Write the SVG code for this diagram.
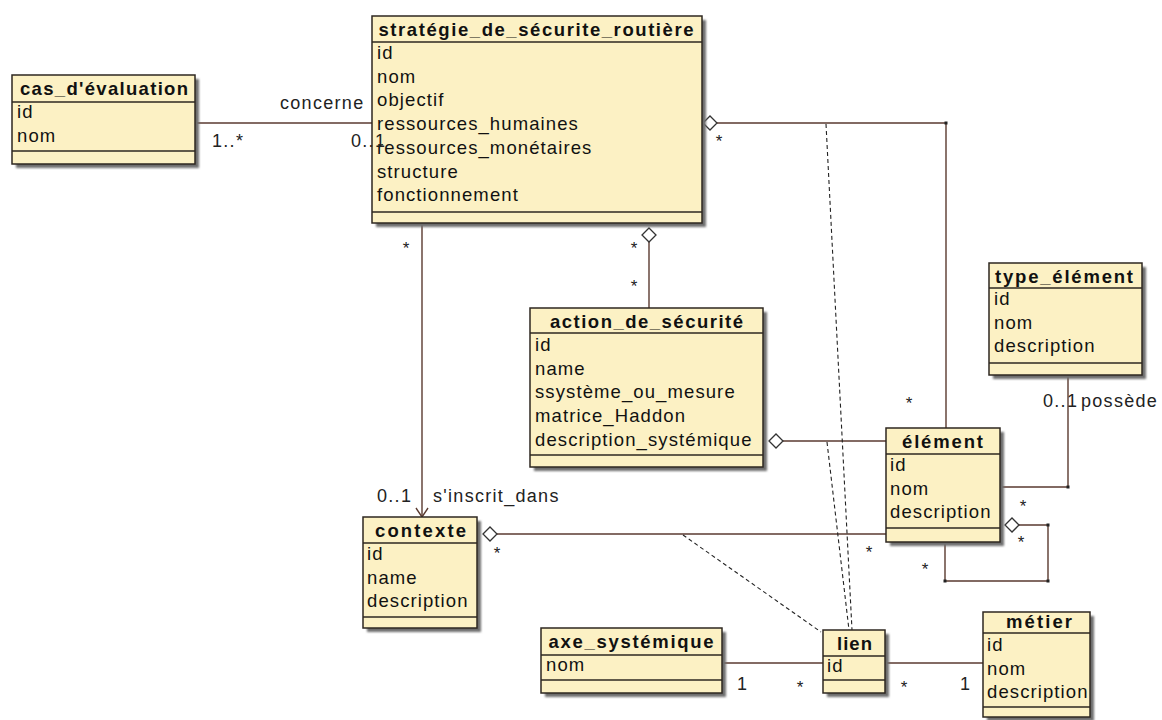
<svg xmlns="http://www.w3.org/2000/svg" width="1162" height="720" viewBox="0 0 1162 720">
  <style>
    .box { fill: #fcf1c4; stroke: #2e2720; stroke-width: 1.5; }
    .sep { stroke: #2e2720; stroke-width: 1.5; }
    .shadow { fill: #6e6e6e; filter: url(#soft); }
    .title { font-family: "Liberation Sans", Arial, sans-serif; font-weight: bold; font-size: 18.5px; fill: #111; }
    .attr { font-family: "Liberation Sans", Arial, sans-serif; font-size: 18.5px; letter-spacing: 1.1px; fill: #111; }
    .lbl { font-family: "Liberation Sans", Arial, sans-serif; font-size: 18px; letter-spacing: 1.3px; fill: #222; }
    .star { font-family: "Liberation Sans", Arial, sans-serif; font-size: 17px; fill: #222; text-anchor: middle; }
    .link { fill: none; stroke: #5a3a30; stroke-width: 1.4; }
    .dash { fill: none; stroke: #222; stroke-width: 1.1; stroke-dasharray: 4 3; }
    .agg { fill: #fff; stroke: #333; stroke-width: 1.3; }
    .dot { fill: #222; }
  </style>
  <defs>
    <filter id="soft" x="-10%" y="-10%" width="130%" height="130%">
      <feGaussianBlur stdDeviation="1.2"/>
    </filter>
  </defs>

  <rect width="1162" height="720" fill="#fff"/>

  <!-- associations -->
  <g id="connectors">
    <!-- cas_d'évaluation — stratégie -->
    <line class="link" x1="195" y1="123" x2="372" y2="123"/>
    <!-- stratégie ◇— élément -->
    <polyline class="link" points="717,123 946,123 946,428"/>
    <polygon class="agg" points="703,123 710,116 717,123 710,130"/>
    <!-- stratégie → contexte (s'inscrit_dans) -->
    <line class="link" x1="422" y1="223" x2="422" y2="516"/>
    <polyline class="link" points="416,508 422,517 428,508"/>
    <!-- stratégie ◇— action_de_sécurité -->
    <line class="link" x1="649" y1="242" x2="649" y2="308"/>
    <polygon class="agg" points="649,228 656,235 649,242 642,235"/>
    <!-- action_de_sécurité ◇— élément -->
    <line class="link" x1="783" y1="441" x2="886" y2="441"/>
    <polygon class="agg" points="769,441 776,434 783,441 776,448"/>
    <!-- contexte ◇— élément -->
    <line class="link" x1="497" y1="534" x2="886" y2="534"/>
    <polygon class="agg" points="483,534 490,527 497,534 490,541"/>
    <!-- élément — type_élément (possède) -->
    <polyline class="link" points="1000,487 1068,487 1068,375"/>
    <!-- élément self aggregation -->
    <polyline class="link" points="1019,525 1048,525 1048,581 945,581 945,542"/>
    <polygon class="agg" points="1005,525 1012,518 1019,525 1012,532"/>
    <!-- lien associations -->
    <line class="link" x1="722" y1="663" x2="823" y2="663"/>
    <line class="link" x1="885" y1="663" x2="983" y2="663"/>
    <!-- association class links to lien -->
    <line class="dash" x1="826" y1="124" x2="852" y2="630"/>
    <line class="dash" x1="827" y1="442" x2="849" y2="630"/>
    <line class="dash" x1="683" y1="535" x2="821" y2="632"/>
    <!-- bend points -->
    <rect class="dot" x="944.5" y="121.5" width="3" height="3"/>
    <rect class="dot" x="1066.5" y="485.5" width="3" height="3"/>
    <rect class="dot" x="1046.5" y="523.5" width="3" height="3"/>
    <rect class="dot" x="1046.5" y="579.5" width="3" height="3"/>
    <rect class="dot" x="943.5" y="579.5" width="3" height="3"/>
  </g>

  <!-- classes -->
  <g id="cas_evaluation">
    <rect class="shadow" x="16" y="79" width="183" height="89"/>
    <rect class="box" x="12" y="75" width="183" height="89"/>
    <line class="sep" x1="12" y1="102" x2="195" y2="102"/>
    <line class="sep" x1="12" y1="151" x2="195" y2="151"/>
    <text class="title" x="104" y="95" text-anchor="middle" textLength="168">cas_d'évaluation</text>
    <text class="attr" x="17" y="118">id</text>
    <text class="attr" x="17" y="142">nom</text>
  </g>

  <g id="strategie">
    <rect class="shadow" x="376" y="20" width="330" height="207"/>
    <rect class="box" x="372" y="16" width="330" height="207"/>
    <line class="sep" x1="372" y1="42" x2="702" y2="42"/>
    <line class="sep" x1="372" y1="212" x2="702" y2="212"/>
    <text class="title" x="536" y="36" text-anchor="middle" textLength="315">stratégie_de_sécurite_routière</text>
    <text class="attr" x="377" y="59">id</text>
    <text class="attr" x="377" y="82.7">nom</text>
    <text class="attr" x="377" y="106.4">objectif</text>
    <text class="attr" x="377" y="130.1">ressources_humaines</text>
    <text class="attr" x="377" y="153.8">ressources_monétaires</text>
    <text class="attr" x="377" y="177.5">structure</text>
    <text class="attr" x="377" y="201.2">fonctionnement</text>
  </g>

  <g id="action_de_securite">
    <rect class="shadow" x="534" y="312" width="233" height="159"/>
    <rect class="box" x="530" y="308" width="233" height="159"/>
    <line class="sep" x1="530" y1="333" x2="763" y2="333"/>
    <line class="sep" x1="530" y1="455" x2="763" y2="455"/>
    <text class="title" x="646.5" y="328" text-anchor="middle" textLength="193">action_de_sécurité</text>
    <text class="attr" x="535" y="351">id</text>
    <text class="attr" x="535" y="374.7">name</text>
    <text class="attr" x="535" y="398.4">ssystème_ou_mesure</text>
    <text class="attr" x="535" y="422.1">matrice_Haddon</text>
    <text class="attr" x="535" y="445.8">description_systémique</text>
  </g>

  <g id="type_element">
    <rect class="shadow" x="993" y="267" width="153" height="112"/>
    <rect class="box" x="989" y="263" width="153" height="112"/>
    <line class="sep" x1="989" y1="288" x2="1142" y2="288"/>
    <line class="sep" x1="989" y1="363" x2="1142" y2="363"/>
    <text class="title" x="1064" y="283" text-anchor="middle" textLength="138">type_élément</text>
    <text class="attr" x="994" y="305">id</text>
    <text class="attr" x="994" y="328.7">nom</text>
    <text class="attr" x="994" y="352.4">description</text>
  </g>

  <g id="element">
    <rect class="shadow" x="890" y="432" width="114" height="114"/>
    <rect class="box" x="886" y="428" width="114" height="114"/>
    <line class="sep" x1="886" y1="454" x2="1000" y2="454"/>
    <line class="sep" x1="886" y1="528" x2="1000" y2="528"/>
    <text class="title" x="942.5" y="448" text-anchor="middle" textLength="81">élément</text>
    <text class="attr" x="890" y="471">id</text>
    <text class="attr" x="890" y="494.7">nom</text>
    <text class="attr" x="890" y="518.4">description</text>
  </g>

  <g id="contexte">
    <rect class="shadow" x="367" y="521" width="114" height="111"/>
    <rect class="box" x="363" y="517" width="114" height="111"/>
    <line class="sep" x1="363" y1="543" x2="477" y2="543"/>
    <line class="sep" x1="363" y1="617" x2="477" y2="617"/>
    <text class="title" x="420.5" y="537" text-anchor="middle" textLength="91">contexte</text>
    <text class="attr" x="367" y="560">id</text>
    <text class="attr" x="367" y="583.7">name</text>
    <text class="attr" x="367" y="607.4">description</text>
  </g>

  <g id="axe_systemique">
    <rect class="shadow" x="545" y="632" width="181" height="65"/>
    <rect class="box" x="541" y="628" width="181" height="65"/>
    <line class="sep" x1="541" y1="655" x2="722" y2="655"/>
    <line class="sep" x1="541" y1="680" x2="722" y2="680"/>
    <text class="title" x="631" y="648" text-anchor="middle" textLength="165">axe_systémique</text>
    <text class="attr" x="546" y="671">nom</text>
  </g>

  <g id="lien">
    <rect class="shadow" x="827" y="634" width="62" height="63"/>
    <rect class="box" x="823" y="630" width="62" height="63"/>
    <line class="sep" x1="823" y1="656" x2="885" y2="656"/>
    <line class="sep" x1="823" y1="680" x2="885" y2="680"/>
    <text class="title" x="854.5" y="650" text-anchor="middle" textLength="35">lien</text>
    <text class="attr" x="827" y="672">id</text>
  </g>

  <g id="metier">
    <rect class="shadow" x="987" y="616" width="107" height="105"/>
    <rect class="box" x="983" y="612" width="107" height="105"/>
    <line class="sep" x1="983" y1="633" x2="1090" y2="633"/>
    <line class="sep" x1="983" y1="707" x2="1090" y2="707"/>
    <text class="title" x="1039" y="628" text-anchor="middle" textLength="66">métier</text>
    <text class="attr" x="987" y="651">id</text>
    <text class="attr" x="987" y="674.7">nom</text>
    <text class="attr" x="987" y="698.4">description</text>
  </g>

  <!-- role names and multiplicities -->
  <g id="connector-labels">
    <text class="lbl" x="280" y="109">concerne</text>
    <text class="lbl" x="212" y="147">1..*</text>
    <text class="lbl" x="351" y="147">0..1</text>
    <text class="star" x="719" y="147">*</text>
    <text class="star" x="406" y="254">*</text>
    <text class="star" x="634" y="254">*</text>
    <text class="star" x="634" y="292">*</text>
    <text class="lbl" x="377" y="502">0..1</text>
    <text class="lbl" x="433" y="502">s'inscrit_dans</text>
    <text class="star" x="909" y="409">*</text>
    <text class="lbl" x="1043" y="407">0..1</text>
    <text class="lbl" x="1081" y="407">possède</text>
    <text class="star" x="1023" y="512">*</text>
    <text class="star" x="1021" y="548">*</text>
    <text class="star" x="925" y="575">*</text>
    <text class="star" x="869" y="558">*</text>
    <text class="star" x="497" y="559">*</text>
    <text class="lbl" x="737" y="690">1</text>
    <text class="star" x="800" y="693">*</text>
    <text class="star" x="904" y="693">*</text>
    <text class="lbl" x="960" y="690">1</text>
  </g>
</svg>
